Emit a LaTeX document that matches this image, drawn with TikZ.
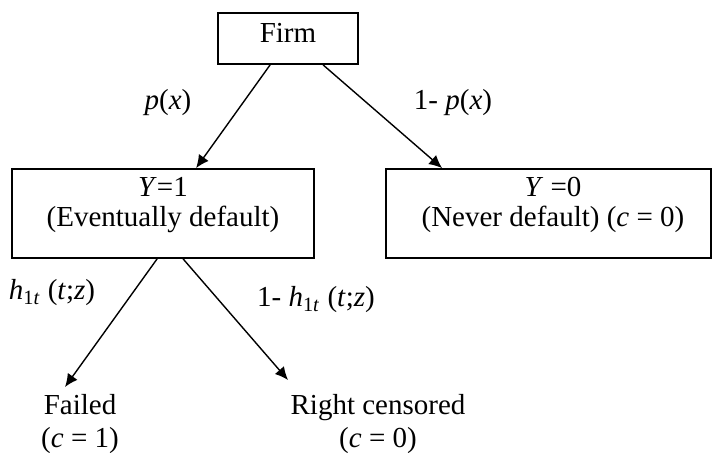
\documentclass[tikz,border=0pt]{standalone}
\usepackage{fontspec}
\setmainfont{Liberation Serif}
\usetikzlibrary{arrows.meta}
\begin{document}
\begin{tikzpicture}[x=0.5pt,y=-0.5pt,
  boxnode/.style={draw, line width=0.9pt, inner sep=0pt},
  txt/.style={font=\fontsize{14.5}{15}\selectfont, align=center, inner sep=0pt},
  leaf/.style={font=\fontsize{14.5}{16.5}\selectfont, align=center, inner sep=3.5pt, anchor=north},
  conn/.style={line width=0.7pt, -{Latex[length=6.5pt,width=6pt]}},
  lbl/.style={font=\fontsize{14.5}{15}\selectfont, inner sep=0pt}]
\fill[white] (0,0) rectangle (713,452);
\useasboundingbox (0,0) rectangle (713,452);
% boxes
\node[boxnode, minimum width=70pt, minimum height=25.5pt] (firm) at (288,38.5) {};
\node[txt] (firmtxt) at (288,33) {Firm};
\node[boxnode, minimum width=151pt, minimum height=44.5pt] (y1) at (163,213.5) {};
\node[txt] (y1txt) at (163,205) {\textit{Y}=1\\(Eventually default)};
\node[boxnode, minimum width=162.5pt, minimum height=44.5pt] (y0) at (548.5,213.5) {};
\node[txt] (y0txt) at (553,205) {\textit{Y} =0\\(Never default) (\textit{c} = 0)};
% leaves
\node[leaf] (failed) at (80,387) {Failed\\(\textit{c} = 1)};
\node[leaf] (rc) at (378,387) {Right censored\\(\textit{c} = 0)};
% connectors
\draw[conn] ([xshift=26.5pt]firm.south west) -- ([xshift=92.5pt]y1.north west);
\draw[conn] ([xshift=53pt]firm.south west) -- ([xshift=28.5pt]y0.north west);
\draw[conn] ([xshift=73pt]y1.south west) -- ([xshift=-7.5pt]failed.north);
\draw[conn] ([xshift=86pt]y1.south west) -- ([xshift=-45pt,yshift=3.5pt]rc.north);
% labels
\node[lbl] (lp) at (168,103) {\textit{p}(\textit{x})};
\node[lbl] (lq) at (453,103) {1- \textit{p}(\textit{x})};
\node[lbl] (lh) at (52,293) {\textit{h}\textsubscript{1\textit{t}} (\textit{t};\textit{z})};
\node[lbl] (lh2) at (316,300) {1- \textit{h}\textsubscript{1\textit{t}} (\textit{t};\textit{z})};
\end{tikzpicture}
\end{document}
